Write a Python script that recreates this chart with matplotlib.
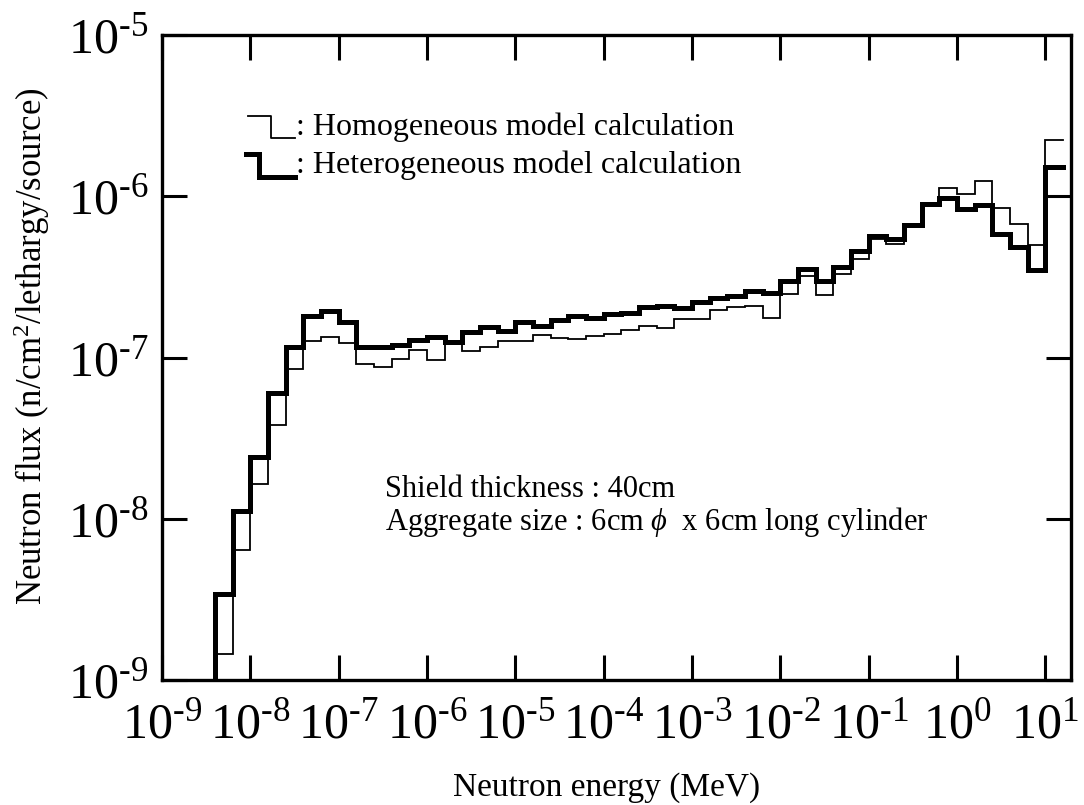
import numpy as np
import matplotlib
matplotlib.use('Agg')
import matplotlib.pyplot as plt
from matplotlib.ticker import FixedLocator, FuncFormatter

plt.rcParams['font.family'] = ['Liberation Serif', 'DejaVu Serif']
plt.rcParams['mathtext.fontset'] = 'custom'
plt.rcParams['mathtext.rm'] = 'Liberation Serif'
plt.rcParams['mathtext.it'] = 'Liberation Serif:italic'

# energy group boundaries (MeV), 5 groups per decade from 10^-8.4 to 10^1.2
edge_exponents = np.round(np.arange(-8.4, 1.21, 0.2), 1)
energy_edges = 10.0 ** edge_exponents

# neutron flux per group (n/cm2/lethargy/source)
homogeneous = [1.45e-9, 6.4e-9, 1.64e-8, 3.8e-8, 8.5e-8, 1.27e-7, 1.34e-7, 1.23e-7,
               9.1e-8, 8.7e-8, 9.8e-8, 1.12e-7, 9.6e-8, 1.25e-7, 1.09e-7, 1.16e-7,
               1.27e-7, 1.26e-7, 1.37e-7, 1.32e-7, 1.30e-7, 1.35e-7, 1.39e-7, 1.48e-7,
               1.57e-7, 1.52e-7, 1.73e-7, 1.74e-7, 1.98e-7, 2.07e-7, 2.08e-7, 1.77e-7,
               2.49e-7, 3.2e-7, 2.45e-7, 3.28e-7, 4.1e-7, 5.46e-7, 5.08e-7, 6.6e-7,
               8.9e-7, 1.12e-6, 1.04e-6, 1.24e-6, 8.5e-7, 6.7e-7, 4.96e-7, 2.23e-6]
heterogeneous = [3.4e-9, 1.12e-8, 2.4e-8, 6.0e-8, 1.17e-7, 1.80e-7, 1.93e-7, 1.67e-7,
                 1.17e-7, 1.17e-7, 1.20e-7, 1.29e-7, 1.34e-7, 1.25e-7, 1.44e-7, 1.54e-7,
                 1.47e-7, 1.66e-7, 1.56e-7, 1.70e-7, 1.82e-7, 1.77e-7, 1.87e-7, 1.88e-7,
                 2.07e-7, 2.08e-7, 2.02e-7, 2.20e-7, 2.35e-7, 2.42e-7, 2.58e-7, 2.51e-7,
                 3.0e-7, 3.55e-7, 3.0e-7, 3.64e-7, 4.57e-7, 5.64e-7, 5.46e-7, 6.6e-7,
                 8.9e-7, 9.7e-7, 8.3e-7, 8.8e-7, 5.86e-7, 4.84e-7, 3.5e-7, 1.52e-6]

x_ticks = [1e-9, 1e-8, 1e-7, 1e-6, 1e-5, 1e-4, 1e-3, 1e-2, 1e-1, 1e0, 1e1]
y_ticks = [1e-9, 1e-8, 1e-7, 1e-6, 1e-5]

Y_MIN, Y_MAX = 1e-9, 1e-5
X_MIN, X_MAX = 1e-9, 10 ** 1.29


def step_line(ax, edges, values, lw):
    # histogram outline rising from the bottom of the axes, open at the right end
    xs = np.concatenate([[edges[0]], edges])
    ys = np.concatenate([[Y_MIN], values, [values[-1]]])
    ax.step(xs, ys, where='post', color='black', lw=lw, solid_joinstyle='miter')


def power_label(val, pos):
    exp = int(round(np.log10(val)))
    if exp < 0:
        return r'$10^{\text{-}%d}$' % (-exp)
    return r'$10^{%d}$' % exp


fig = plt.figure(figsize=(10.84, 8.05), dpi=100)
ax = fig.add_axes([0.1494, 0.1553, 0.8386, 0.8012])

step_line(ax, energy_edges, homogeneous, 1.3)
step_line(ax, energy_edges, heterogeneous, 3.6)

ax.set_xscale('log')
ax.set_yscale('log')
ax.set_xlim(X_MIN, X_MAX)
ax.set_ylim(Y_MIN, Y_MAX)

ax.xaxis.set_major_locator(FixedLocator(x_ticks))
ax.yaxis.set_major_locator(FixedLocator(y_ticks))
ax.xaxis.set_minor_locator(FixedLocator([]))
ax.yaxis.set_minor_locator(FixedLocator([]))
ax.xaxis.set_major_formatter(FuncFormatter(power_label))
ax.yaxis.set_major_formatter(FuncFormatter(power_label))

ax.tick_params(which='major', direction='in', top=True, right=True,
               length=18, width=2.2, labelsize=36)
ax.tick_params(axis='x', pad=16)
ax.tick_params(axis='y', pad=10)
for sp in ax.spines.values():
    sp.set_linewidth(2.4)

ax.set_xlabel('Neutron energy (MeV)', fontsize=24)
ax.xaxis.set_label_coords(0.489, -0.143)
ax.set_ylabel(r'Neutron flux (n/cm$^2$/lethargy/source)', fontsize=25)
ax.yaxis.set_label_coords(-0.121, 0.518)

# hand drawn legend, as in the original figure
tr = ax.transAxes
ax.plot([0.0946, 0.1195, 0.1195, 0.146], [0.874, 0.874, 0.840, 0.840],
        color='black', lw=1.3, transform=tr, clip_on=False)
ax.plot([0.092, 0.107, 0.107, 0.146], [0.816, 0.816, 0.780, 0.780],
        color='black', lw=3.6, transform=tr, clip_on=False, solid_joinstyle='miter')
ax.text(0.148, 0.845, ': Homogeneous model calculation', fontsize=23,
        transform=tr, va='baseline', ha='left')
ax.text(0.148, 0.786, ': Heterogeneous model calculation', fontsize=23,
        transform=tr, va='baseline', ha='left')

ax.text(0.245, 0.295, 'Shield thickness : 40cm', fontsize=22,
        transform=tr, va='center', ha='left')
ax.text(0.245, 0.245, r'Aggregate size : 6cm $\phi$  x 6cm long cylinder', fontsize=22,
        transform=tr, va='center', ha='left')

fig.savefig('out.png', dpi=100)
